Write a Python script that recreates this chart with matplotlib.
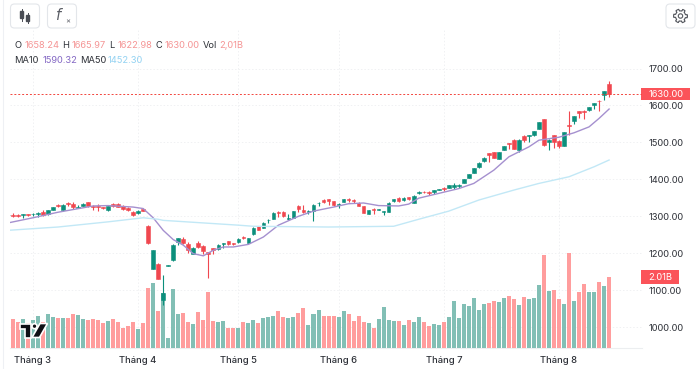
import numpy as np
import matplotlib
matplotlib.use('Agg')
import matplotlib.pyplot as plt
from matplotlib.patches import FancyBboxPatch, Rectangle, Polygon, Circle
from matplotlib.transforms import blended_transform_factory

plt.rcParams['font.family'] = ['Inter', 'DejaVu Sans']

opens = [1303,
 1304,1303,1304,1305,1306,1305,1312,1306,1318,1331,1316,1335,1334,1323,1328,1339,1329,1327,1325,1318,
 1332,1332,1328,1323,1312,1309,1321,1273,1158,1172,1073,1166,1183,1231,1238,1226,1199,1227,1220,1203,
 1213,1211,1224,1232,1228,1230,1244,1229,1253,1273,1269,1289,1294,1312,1312,1292,1296,1329,1318,1312,
 1314,1335,1343,1346,1341,1331,1340,1348,1345,1337,1328,1307,1321,1318,1311,1312,1341,1349,1343,1352,
 1337,1364,1367,1367,1366,1372,1377,1377,1379,1382,1391,1404,1418,1433,1449,1470,1473,1456,1480,1498,
 1507,1480,1518,1516,1519,1537,1562,1501,1519,1505,1490,1546,1557,1585,1586,1588,1602,1613,1627,1658.24]
highs = [1305,
 1309,1305,1306.5,1307,1309,1312,1316,1317,1326,1334,1333,1340,1339,1330,1336,1340,1330,1332,1326,1329,
 1336,1335,1330,1325,1314,1317,1323,1277,1210,1173,1141,1168,1224,1242,1244,1231,1217,1233,1222,1204,
 1215,1224,1229,1233,1229,1241,1248,1242,1270,1275,1284,1292,1311,1314,1313,1307,1315,1330,1331,1318,
 1334,1338,1348,1347,1342,1335,1348,1349,1348,1338,1329,1318,1322,1320,1315,1338,1347,1352,1351,1353,
 1357,1368,1368,1368,1372,1375,1379,1385,1390,1387,1401,1415,1432,1447,1460,1472,1474,1475,1490,1499,
 1509,1508,1520,1520,1531,1556,1564,1508,1520,1506,1528,1584,1572,1586,1587,1597,1607,1614,1640,1665.97]
lows = [1302,
 1297,1299,1296,1300,1302,1297,1302,1304,1317,1325,1313,1328,1321,1322,1327,1326,1318,1314,1321,1314,
 1325,1324,1318,1314,1300,1307,1313,1226,1157,1129,1060,1166,1179,1223,1226,1201,1197,1213,1199,1134,
 1199,1209,1213,1222,1222,1228,1238,1227,1250,1262,1267,1282,1292,1298,1299,1291,1295,1312,1309,1307,
 1287,1327,1336,1330,1328,1322,1339,1338,1337,1328,1308,1306,1305,1316,1303,1311,1340,1339,1342,1344,
 1335,1361,1364,1358,1359,1370,1368,1376,1375,1377,1390,1403,1416,1431,1447,1447,1457,1455,1479,1483,
 1482,1474,1501,1501,1518,1536,1491,1480,1486,1485,1489,1519,1550,1567,1562,1584,1591,1584,1615,1622.98]
closes = [1304,
 1302,1301,1306,1303,1307,1310,1304,1316,1324,1327,1331,1332,1324,1325,1334,1327,1324,1324,1322,1327,
 1328,1325,1321,1316,1304,1315,1315,1228,1210,1130,1093,1168,1222,1240,1228,1208,1215,1216,1205,1197,
 1210,1222,1228,1226,1226,1239,1240,1240,1268,1264,1282,1291,1309,1310,1300,1295,1313,1320,1312,1314,
 1331,1337,1340,1342,1330,1334,1346,1345,1341,1329,1309,1316,1316,1320,1313,1337,1346,1341,1350,1346,
 1356,1366,1365,1363,1370,1374,1373,1384,1384,1386,1400,1414,1430,1445,1458,1467,1458,1473,1489,1496,
 1483,1507,1507,1519,1530,1555,1492,1507,1501,1489,1527,1544,1571,1580,1582,1595,1606,1611,1639,1630.00]
volumes = [.80,
 .82,.73,.83,.70,.79,.92,.75,.96,.88,.85,.85,.85,.97,.93,.83,.80,.83,.80,.71,.77,
 .82,.74,.56,.63,.75,.54,.71,1.70,1.84,1.05,1.55,.28,1.67,.96,1.00,.75,.69,1.03,.80,1.59,
 .77,.73,.77,.58,.56,.56,.74,.72,.78,.70,.84,.89,.92,1.05,.87,.84,.87,1.00,1.12,.65,
 .96,1.07,.92,.91,.92,.88,1.04,.96,.76,.92,.73,.72,.56,.82,1.16,.78,.77,.77,.66,.79,
 .75,.89,.75,.61,.69,.65,.75,.88,1.32,.85,1.25,1.18,1.43,1.08,1.25,1.27,1.33,1.29,1.41,1.47,
 1.40,1.23,1.44,1.40,1.41,1.78,2.63,1.62,1.65,1.39,1.24,2.68,1.34,1.60,1.82,1.59,1.58,1.86,1.75,2.01]

ma10_idx = [-1,4,9,14,16,19,24,26,28,30,32,34,36,38,40,42,44,47,50,53,57,60,64,67,70,73,77,79,81,85,89,92,96,99,103,105,109,112,115,117,119]
ma10 = [1282,1296,1311,1323,1328,1329,1325,1321,1296,1262,1237,1222,1199,1193,1208,1217,1217,1224,1244,1276,1300,1314,1325,1334,1336,1329,1328,1333,1349,1362,1375,1389,1425,1461,1488,1506,1514,1526,1542,1565,1590.32]
ma50_idx = [-1,9,19,26,29,30,45,48,63,76,81,87,93,100,105,111,116,119]
ma50 = [1262,1271,1285,1296,1292,1289,1276,1273,1271,1273,1292,1314,1344,1371,1389,1407,1434,1452.30]

month_pos = [4,25,45,65,86,109]
month_labels = ['Tháng 3','Tháng 4','Tháng 5','Tháng 6','Tháng 7','Tháng 8']
price_ticks = [1000,1100,1200,1300,1400,1500,1600,1700]

W, H = 700, 369
L, R, T, B = 9.5, 642, 30, 348

RED = '#f0474f'
GREEN = '#0c8f7c'
PINK = '#ff9d9d'
TEAL = '#82bfb5'
TXT = '#2e3138'
HRED = '#f59595'

x = np.arange(len(opens)) - 1
o, h, l, c = map(np.array, (opens, highs, lows, closes))
up = c >= o

fig = plt.figure(figsize=(7, 3.69), dpi=100)
pos = [L/W, 1-B/H, (R-L)/W, (B-T)/H]
xlim = ((L-12.9)/5.01, (R-12.9)/5.01)
ylim = (1700-(B-68.5)/.3695, 1700+(68.5-T)/.3695)

# grid and price scale underneath
bg = fig.add_axes(pos, zorder=0)
bg.set_xlim(xlim)
bg.set_ylim(ylim)
bg.set_xticks(month_pos)
bg.set_xticklabels(month_labels, fontsize=6.8, fontweight='medium', color=TXT)
bg.set_yticks(price_ticks)
bg.set_yticklabels(['%.2f' % p for p in price_ticks], fontsize=6.7, color=TXT)
bg.yaxis.tick_right()
bg.tick_params(length=0)
bg.tick_params(axis='x', pad=6)
bg.tick_params(axis='y', pad=5)
bg.grid(True, color='#f0f1f3', lw=.7, ls=(0, (1.5, 2)))
for s in ['top', 'left', 'right']:
    bg.spines[s].set_visible(False)
bg.spines['bottom'].set_color('#eceef0')

vol = fig.add_axes(pos, zorder=1)
vol.patch.set_visible(False)
vol.set_xlim(xlim)
vol.set_ylim(0, (B-T)/35.3)
vol.axis('off')
vol.bar(x, volumes, width=.8, color=[TEAL if u else PINK for u in up], lw=0)

ax = fig.add_axes(pos, zorder=2)
ax.patch.set_visible(False)
ax.set_xlim(xlim)
ax.set_ylim(ylim)
ax.axis('off')
colors = [GREEN if u else RED for u in up]
ax.vlines(x, l, h, colors=colors, lw=.8)
ax.bar(x, np.abs(c-o), bottom=np.minimum(o, c), width=.72, color=colors, edgecolor=colors, lw=.4)
ax.plot(ma10_idx, ma10, color='#a590cf', lw=1.0)
ax.plot(ma50_idx, ma50, color='#c2e8f6', lw=1.0)
ax.axhline(closes[-1], color='#f2453d', lw=.7, ls=(0, (2, 2)))

# price and volume tags
tr = blended_transform_factory(ax.transAxes, ax.transData)
ax.add_patch(Rectangle((1-1/(R-L), closes[-1]-16), 49/(R-L), 32, transform=tr, fc='#fb5359', ec='none', clip_on=False))
ax.text(1+6.5/(R-L), closes[-1], '%.2f' % closes[-1], transform=tr, color='white', fontsize=6.7, va='center', clip_on=False)
tr2 = blended_transform_factory(vol.transAxes, vol.transData)
vol.add_patch(Rectangle((1-1/(R-L), volumes[-1]-.19), 38/(R-L), .38, transform=tr2, fc='#fb5359', ec='none', clip_on=False))
vol.text(1+6.5/(R-L), volumes[-1], '2.01B', transform=tr2, color='white', fontsize=6.7, va='center', clip_on=False)

# overlay in pixels for toolbar, header and logo
ov = fig.add_axes([0, 0, 1, 1], zorder=3)
ov.patch.set_visible(False)
ov.set_xlim(0, W)
ov.set_ylim(H, 0)
ov.axis('off')

ov.plot([2.5, 2.5], [0, H], color='#eef0f4', lw=.8)
for bx in [10.5, 47.5, 666]:
    ov.add_patch(FancyBboxPatch((bx+3, 7), 23, 18, boxstyle='round,pad=3,rounding_size=4', fc='white', ec='#e3e6ea', lw=.8))
ov.plot([21.5, 21.5], [9, 21], color='#4a4d55', lw=.7)
ov.add_patch(Rectangle((20, 11), 3, 7, color='#4a4d55'))
ov.plot([27.5, 27.5], [13, 23], color='#4a4d55', lw=.7)
ov.add_patch(Rectangle((26, 15), 3, 6, color='#4a4d55'))
ov.text(59, 15, r'$f$', fontsize=10.5, color='#5a5d65', ha='center', va='center', family='DejaVu Serif')
ov.text(67.5, 21, '×', fontsize=5.5, color='#5a5d65', ha='center', va='center')
theta = np.linspace(0, 2*np.pi, 97)
rad = 6 + .9*np.sign(np.cos(6*theta))
ov.plot(680.5+rad*np.cos(theta), 16+rad*np.sin(theta), color='#55585f', lw=.8)
ov.add_patch(Circle((680.5, 16), 2.2, fc='none', ec='#55585f', lw=.8))

hdr = [(14.5, 'O', TXT), (25, '1658.24', HRED), (62.5, 'H', TXT), (72, '1665.97', HRED),
       (109, 'L', TXT), (118, '1622.98', HRED), (155, 'C', TXT), (165, '1630.00', HRED),
       (203, 'Vol', TXT), (219, '2,01B', HRED)]
for px, s, col in hdr:
    ov.text(px, 45.5, s, fontsize=6.7, color=col, va='center')
hdr2 = [(14.5, 'MA10', TXT), (42.5, '1590.32', '#8468c4'), (80, 'MA50', TXT), (108, '1452.30', '#93d2f2')]
for px, s, col in hdr2:
    ov.text(px, 60.5, s, fontsize=6.7, color=col, va='center')

# logo
logo = dict(fc='#0f0f14', ec='white', lw=1.2, zorder=5)
ov.add_patch(Polygon([(19.5, 323.5), (31, 323.5), (31, 337.5), (25, 337.5), (25, 329), (19.5, 329)], **logo))
ov.add_patch(Circle((34.5, 326.2), 2.5, **logo))
ov.add_patch(Polygon([(40, 323.5), (47.5, 323.5), (39.5, 337.5), (32, 337.5)], **logo))

fig.savefig('out.png', dpi=100)
